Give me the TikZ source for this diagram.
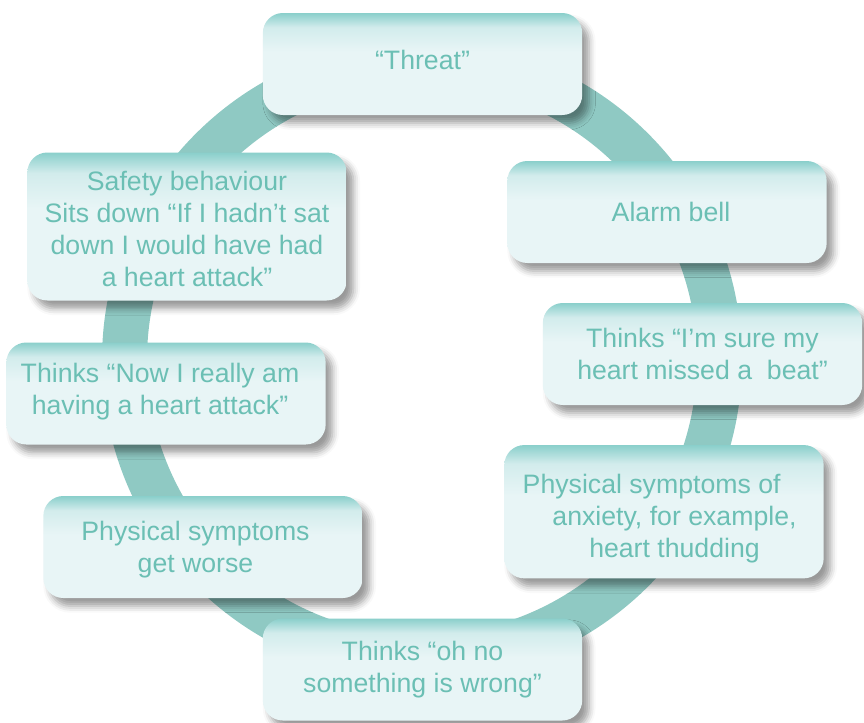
\documentclass[tikz,border=0pt]{standalone}
\usepackage{fontspec}
\setmainfont{Liberation Sans}
\usetikzlibrary{shadows.blur}
\definecolor{ringc}{HTML}{8FC9C3}
\definecolor{txtc}{HTML}{6BBFB4}
\definecolor{boxtop}{HTML}{8ACFCB}
\definecolor{boxmid}{HTML}{D2ECEC}
\definecolor{boxlow}{HTML}{E8F5F6}
\pgfdeclareverticalshading{boxshade}{100bp}{color(0bp)=(boxlow); color(25bp)=(boxlow); color(56bp)=(boxlow); color(68bp)=(boxmid); color(75bp)=(boxtop); color(100bp)=(boxtop)}
\tikzset{
  cyclebox/.style={shape=rectangle, rounded corners=15pt, shade, shading=boxshade,
    inner sep=0pt, minimum width=239.5pt, minimum height=76.5pt, align=center,
    text=txtc, font=\fontsize{20pt}{24pt}\selectfont,
    blur shadow={shadow xshift=5pt, shadow yshift=-6pt, shadow blur radius=5pt, shadow opacity=40}},
  ringline/.style={draw=ringc, line width=33.75pt}
}
\begin{document}
\begin{tikzpicture}[x=0.75pt, y=-0.75pt]
\useasboundingbox (0,0) rectangle (864,722);
\draw[ringline] (422,360) circle[radius=297.5];
\node[cyclebox, text depth=6pt] (threat) at (422.5,64) {“Threat”};
\node[cyclebox] (alarm) at (667,212) {\hspace*{6pt}Alarm bell};
\node[cyclebox, minimum height=111pt, text height=89.5pt] (safety) at (187,226.5) {Safety behaviour\\Sits down “If I hadn’t sat\\down I would have had\\a heart attack”};
\node[cyclebox] (sure) at (702.5,354) {Thinks “I’m sure my\\heart missed a~~beat”};
\node[cyclebox, text depth=7.2pt] (really) at (166,393.5) {\hspace*{-9pt}Thinks “Now I really am\\\hspace*{-9pt}having a heart attack”};
\node[cyclebox, minimum height=100pt, text height=73.5pt] (anxiety) at (664,511.7) {\hspace*{-18.5pt}Physical symptoms of\\\hspace*{15.75pt}anxiety, for example,\\\hspace*{15.75pt}heart thudding};
\node[cyclebox, text height=43pt] (worse) at (203,547) {\hspace*{-11.25pt}Physical symptoms\\\hspace*{-11.25pt}get worse};
\node[cyclebox] (ohno) at (422.5,669.5) {Thinks “oh no\\something is wrong”};
\end{tikzpicture}
\end{document}
